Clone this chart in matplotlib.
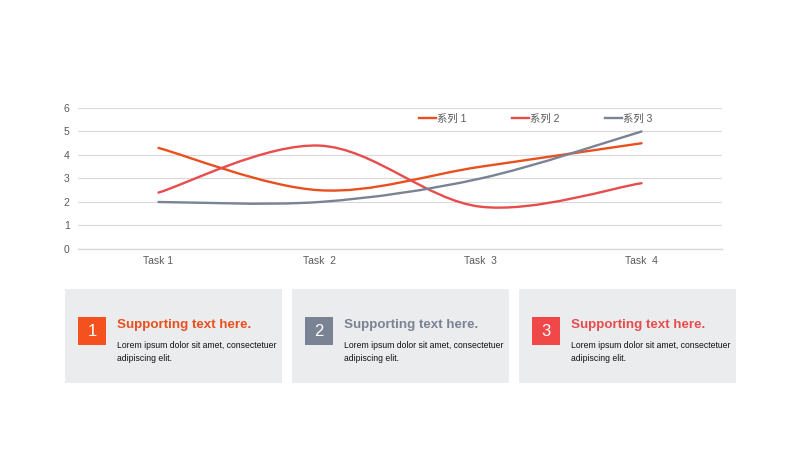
"""Smoothed line chart with three summary cards underneath."""
import matplotlib
matplotlib.use('Agg')
import matplotlib.pyplot as plt
from matplotlib.path import Path
import matplotlib.patches as mpatches

plt.rcParams['font.family'] = ['Liberation Sans', 'Noto Sans CJK SC', 'DejaVu Sans']

# ── Data ──────────────────────────────────────────────────────────────────────
categories = ['Task 1', 'Task  2', 'Task  3', 'Task  4']
series_names = ['系列 1', '系列 2', '系列 3']
series_1 = [4.3, 2.5, 3.5, 4.5]
series_2 = [2.4, 4.4, 1.8, 2.8]
series_3 = [2.0, 2.0, 3.0, 5.0]

card_numbers = ['1', '2', '3']
card_titles = ['Supporting text here.'] * 3
card_body = 'Lorem ipsum dolor sit amet, consectetuer\nadipiscing elit.'

# ── Colours ───────────────────────────────────────────────────────────────────
C_ORANGE = '#E8501E'
C_RED = '#E84C4C'
C_GREY = '#7A8394'
series_colors = [C_ORANGE, C_RED, C_GREY]
square_colors = ['#F4511E', '#7A8394', '#F04848']
title_colors = [C_ORANGE, C_GREY, C_RED]
TICK_C = '#595959'
GRID_C = '#D9D9D9'
CARD_C = '#EBECED'


def smooth_path(xs, ys):
    """Cubic bezier path through the points (Excel-like smoothing)."""
    pts = list(zip(xs, ys))
    verts = [pts[0]]
    codes = [Path.MOVETO]
    n = len(pts)
    for i in range(n - 1):
        p0 = pts[i - 1] if i > 0 else pts[i]
        p1 = pts[i]
        p2 = pts[i + 1]
        p3 = pts[i + 2] if i + 2 < n else pts[i + 1]
        c1 = (p1[0] + (p2[0] - p0[0]) / 6, p1[1] + (p2[1] - p0[1]) / 6)
        c2 = (p2[0] - (p3[0] - p1[0]) / 6, p2[1] - (p3[1] - p1[1]) / 6)
        verts += [c1, c2, p2]
        codes += [Path.CURVE4] * 3
    return Path(verts, codes)


fig = plt.figure(figsize=(8, 4.5), dpi=100)
fig.patch.set_facecolor('white')

# background layer in pixel coordinates for the cards
bg = fig.add_axes([0, 0, 1, 1], zorder=0)
bg.set_xlim(0, 800)
bg.set_ylim(450, 0)
bg.axis('off')

# ── Line chart ────────────────────────────────────────────────────────────────
ax = fig.add_axes([0.0975, 0.4467, 0.805, 0.3133], zorder=1)
ax.patch.set_alpha(0)
x = list(range(len(categories)))
handles = []
for name, vals, col in zip(series_names, [series_1, series_2, series_3], series_colors):
    patch = mpatches.PathPatch(smooth_path(x, vals), facecolor='none',
                               edgecolor=col, linewidth=1.7, capstyle='round', zorder=3)
    ax.add_patch(patch)
    h, = ax.plot([], [], color=col, linewidth=1.7, label=name)
    handles.append(h)

ax.set_xlim(-0.5, 3.5)
ax.set_ylim(0, 6)
ax.set_xticks(x)
ax.set_xticklabels(categories)
ax.set_yticks(range(0, 7))
ax.tick_params(axis='both', length=0, labelsize=7.5, colors=TICK_C)
ax.tick_params(axis='x', pad=5)
ax.tick_params(axis='y', pad=6)
ax.grid(axis='y', color=GRID_C, linewidth=0.8, zorder=0)
ax.axhline(0, color=GRID_C, linewidth=1.0, zorder=1, clip_on=False)
ax.set_axisbelow(True)
for s in ax.spines.values():
    s.set_visible(False)

ax.legend(handles=handles, loc='upper right', bbox_to_anchor=(0.903, 1.01),
          ncol=3, frameon=False, fontsize=7.5, labelcolor=TICK_C,
          handlelength=1.6, handletextpad=0.1, columnspacing=4.4,
          borderaxespad=0.3)

# ── Cards ─────────────────────────────────────────────────────────────────────
card_left = [65, 292, 519]
card_w = 217
for i in range(3):
    cx = card_left[i]
    bg.add_patch(mpatches.Rectangle((cx, 289), card_w, 94, facecolor=CARD_C,
                                    edgecolor='none'))
    sq_x = cx + 13
    bg.add_patch(mpatches.Rectangle((sq_x, 317), 28, 28,
                                    facecolor=square_colors[i], edgecolor='none'))
    bg.text(sq_x + 14, 331.5, card_numbers[i], color='white', fontsize=12,
            ha='center', va='center')
    bg.text(cx + 52, 325, card_titles[i], color=title_colors[i], fontsize=9.6,
            fontweight='bold', ha='left', va='center')
    bg.text(cx + 52, 340.5, card_body, color='#111111', fontsize=6.2,
            ha='left', va='top', linespacing=1.65)

fig.savefig('out.png', dpi=100, facecolor='white')
plt.close(fig)
